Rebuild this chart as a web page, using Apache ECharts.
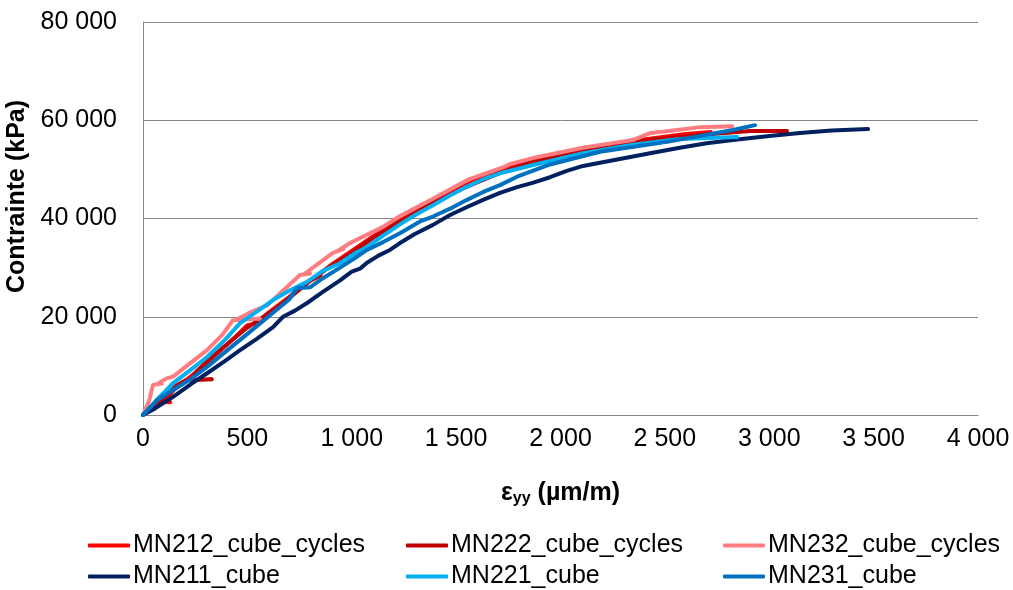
<!DOCTYPE html>
<html>
<head>
<meta charset="utf-8">
<script src="https://cdn.jsdelivr.net/npm/echarts@6/dist/echarts.min.js"></script>
<style>
  html, body { margin: 0; padding: 0; background: #fff; }
  #main { width: 1013px; height: 590px; }
</style>
</head>
<body>
<div id="main"></div>
<script>
// series names (legend order)
var names = ['MN212_cube_cycles', 'MN222_cube_cycles', 'MN232_cube_cycles',
             'MN211_cube', 'MN221_cube', 'MN231_cube'];
var colors = ['#FF0000', '#C00000', '#FF7C80', '#002060', '#00B0F0', '#0070C0'];

// [strain µm/m, stress kPa]
var mn212 = [[0,0],[30,1000],[80,2800],[130,2600],[100,2700],[150,5200],[250,8600],[330,11600],[420,15000],
  [500,18300],[540,18600],[600,20800],[700,24000],[760,26200],[820,27900],[910,30800],[1000,33400],
  [1100,36300],[1231,39600],[1389,43200],[1552,46900],[1710,50000],[1868,51800],[2108,54300],
  [2347,55800],[2600,57200],[2720,57600]];
var mn222 = [[0,0],[40,1500],[100,3500],[160,6000],[200,7000],[330,7300],[230,7100],[260,9000],[330,11800],
  [420,15000],[500,17800],[560,19500],[640,21700],[720,24500],[800,27300],[850,28400],[830,28200],
  [900,30300],[1000,33000],[1100,36000],[1231,39400],[1389,43100],[1552,46500],[1710,49300],
  [1868,51500],[2108,53900],[2347,55500],[2429,56000],[2668,57000],[2908,57800],[3085,57800]];
var mn232 = [[0,0],[30,3000],[48,6100],[90,6400],[70,6300],[110,7400],[144,7800],[225,10500],[307,13200],
  [380,16300],[431,19300],[560,19600],[450,19500],[520,21000],[594,22300],[642,24200],[752,28500],
  [800,28800],[770,28600],[830,30500],[910,33000],[960,33800],[940,33600],[992,35000],[1150,38300],
  [1231,40500],[1389,44000],[1552,47800],[1730,50500],[1760,51100],[1868,52300],[2108,54400],
  [2347,56000],[2430,57400],[2500,57700],[2668,58600],[2822,58800]];
var mn211 = [[0,0],[60,1400],[144,3700],[230,6300],[307,8500],[390,10900],[465,13200],[545,15500],
  [623,17900],[671,20000],[730,21300],[786,22800],[860,25000],[944,27400],[1000,29200],[1040,29800],
  [1073,31000],[1130,32500],[1183,33600],[1231,35000],[1300,36800],[1389,38700],[1471,40700],
  [1550,42300],[1629,43800],[1710,45200],[1792,46400],[1870,47300],[1950,48400],[2030,49700],
  [2108,50700],[2271,52000],[2429,53300],[2572,54400],[2700,55300],[2826,56000],[3000,56800],
  [3147,57400],[3300,57900],[3473,58200]];
var mn221 = [[0,0],[60,2800],[144,6500],[225,9100],[307,11800],[390,15200],[465,18700],[540,20900],
  [623,23400],[704,25400],[786,27100],[860,29300],[944,30900],[1010,32800],[1073,34200],[1150,36500],
  [1231,38800],[1300,40600],[1389,42700],[1470,44700],[1552,46500],[1630,48000],[1710,49200],
  [1868,50900],[2108,53300],[2347,55000],[2572,56200],[2846,56600]];
var mn231 = [[0,0],[67,3000],[144,5100],[225,7200],[307,9800],[390,12700],[465,15300],[545,18100],
  [623,20800],[700,23500],[738,25800],[800,26000],[860,27800],[944,30000],[1010,31800],[1073,33600],
  [1150,35200],[1231,37000],[1327,39400],[1389,40400],[1471,42000],[1552,43800],[1630,45400],
  [1710,46800],[1792,48500],[1950,51000],[2189,53600],[2510,55600],[2826,58000],[2932,59000]];
var seriesData = [mn212, mn222, mn232, mn211, mn221, mn231];

var FONT = '"Liberation Sans Narrow", "Liberation Sans", sans-serif';

function spaced(v) {
  return String(v).replace(/\B(?=(\d{3})+(?!\d))/g, ' ');
}

// legend positions: 3 columns x 2 rows
var legLeft = [88, 406, 723];
var legTop = [533, 564];

var myChart = echarts.init(document.getElementById('main'));
myChart.setOption({
  animation: false,
  textStyle: { fontFamily: FONT },
  grid: { left: 143, top: 22, right: 35, bottom: 175, containLabel: false, outerBoundsMode: 'none' },
  legend: names.map(function (n, i) {
    return {
      data: [n],
      left: legLeft[i % 3],
      top: legTop[Math.floor(i / 3)],
      padding: 0,
      icon: 'roundRect',
      itemWidth: 42,
      itemHeight: 4,
      itemGap: 5,
      textStyle: { fontSize: 25, color: '#000', fontFamily: FONT, padding: [0, 0, 0, -2] },
      selectedMode: false
    };
  }),
  xAxis: {
    type: 'value',
    min: 0, max: 4000, interval: 500,
    name: '{a|ε}{s|yy}{a| (µm/m)}',
    nameLocation: 'middle',
    nameGap: 64,
    nameTextStyle: {
      rich: {
        a: { fontSize: 25, fontWeight: 'bold', color: '#000', fontFamily: FONT },
        s: { fontSize: 16, fontWeight: 'bold', color: '#000', fontFamily: FONT, padding: [12, 0, 0, 0] }
      }
    },
    axisLine: { show: true, lineStyle: { color: '#868686', width: 1 } },
    axisTick: { show: false },
    splitLine: { show: false },
    axisLabel: { fontSize: 25, color: '#000', margin: 12, formatter: spaced }
  },
  yAxis: {
    type: 'value',
    min: 0, max: 80000, interval: 20000,
    name: 'Contrainte (kPa)',
    nameLocation: 'middle',
    nameGap: 99,
    nameTextStyle: { fontSize: 25, fontWeight: 'bold', color: '#000', padding: [0, 0, 0, 44] },
    axisLine: { show: true, lineStyle: { color: '#868686', width: 1 } },
    axisTick: { show: false },
    splitLine: { show: true, lineStyle: { color: '#868686', width: 1 } },
    axisLabel: { fontSize: 25, color: '#000', margin: 26, formatter: spaced }
  },
  series: names.map(function (n, i) {
    return {
      name: n,
      type: 'line',
      data: seriesData[i],
      symbol: 'none',
      smooth: false,
      color: colors[i],
      lineStyle: { width: 4, color: colors[i], cap: 'round', join: 'round' }
    };
  })
});
</script>
</body>
</html>
